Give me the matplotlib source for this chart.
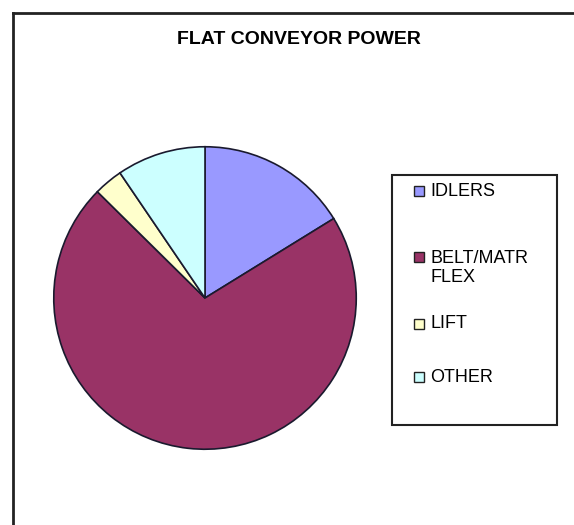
import matplotlib.pyplot as plt
from matplotlib.patches import Rectangle
from matplotlib.lines import Line2D

categories = ["IDLERS", "BELT/MATR\nFLEX", "LIFT", "OTHER"]
values = [16.2, 71.2, 3.1, 9.5]
colors = ["#9999FF", "#993366", "#FFFFCC", "#CCFFFF"]

W, H = 574, 525
fig = plt.figure(figsize=(W / 100, H / 100), dpi=100)
plt.rcParams['font.family'] = ['Liberation Sans', 'DejaVu Sans']

def fx(x):
    return x / W

def fy(y):
    return 1 - y / H

# outer chart frame (only top and left edges visible)
fig.add_artist(Line2D([fx(13), 1], [fy(13), fy(13)], color="#222222", lw=2))
fig.add_artist(Line2D([fx(13), fx(13)], [fy(13), 0], color="#222222", lw=2))

fig.text(fx(299), fy(39), "FLAT CONVEYOR POWER", ha="center", va="center",
         fontsize=14, fontweight="bold")

# pie: centre (205, 298), radius 152 px
r = 152
ax = fig.add_axes([fx(205 - r), fy(298 + r), 2 * r / W, 2 * r / H])
wedges, _ = ax.pie(values, colors=colors, startangle=90, counterclock=False,
                   wedgeprops=dict(edgecolor="#1a1a2e", linewidth=1.2))
ax.set_xlim(-1.005, 1.005)
ax.set_ylim(-1.005, 1.005)
ax.set_aspect("equal")
ax.axis("off")

# legend box drawn by hand to match the spacing of the original
fig.add_artist(Rectangle((fx(392), fy(425)), fx(557) - fx(392), fy(175) - fy(425),
                         facecolor="white", edgecolor="#222222", lw=1.5))
label_y = [191, 268, 324, 377]
for lab, col, y in zip(categories, colors, label_y):
    first_y = y if "\n" not in lab else 257
    fig.add_artist(Rectangle((fx(414), fy(first_y + 5)), 10 / W, 10 / H,
                             facecolor=col, edgecolor="#222222", lw=1))
    fig.text(fx(430), fy(y), lab, ha="left", va="center", fontsize=13,
             linespacing=1.1)

fig.savefig("out.png", dpi=100)
